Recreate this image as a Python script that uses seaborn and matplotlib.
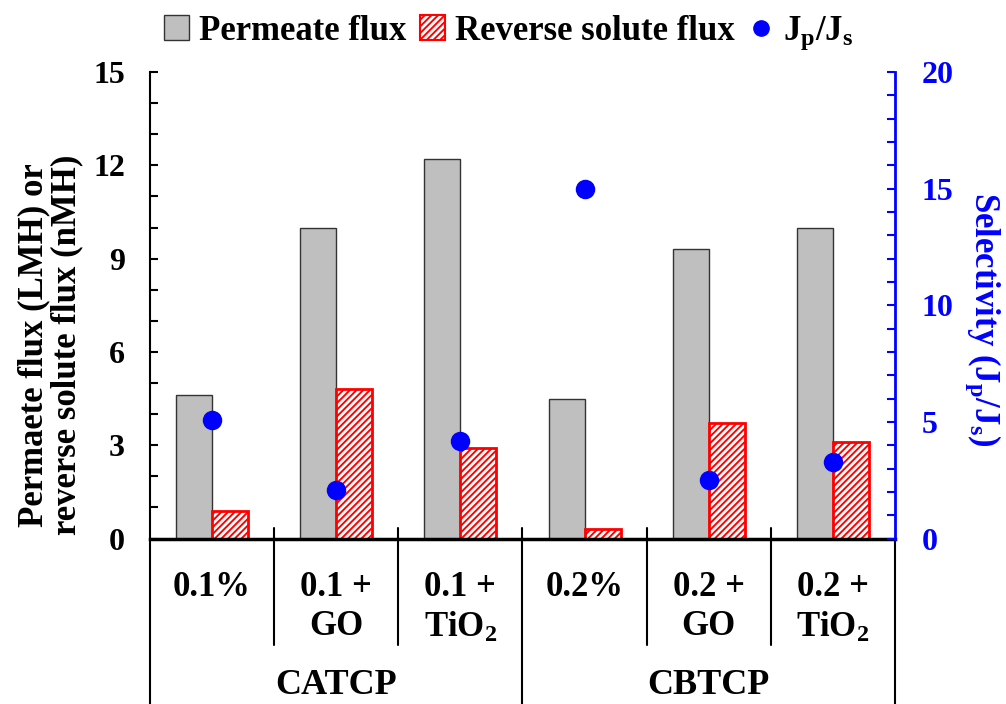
import numpy as np
import pandas as pd
import matplotlib
matplotlib.use("Agg")
import matplotlib.pyplot as plt
import matplotlib.transforms as mtransforms
from matplotlib.patches import Patch
from matplotlib.lines import Line2D
from matplotlib.ticker import MultipleLocator
import seaborn as sns

# ---- data ----
categories = ["0.1%", "0.1 +\nGO", "0.1 +\nTiO$_2$", "0.2%", "0.2 +\nGO", "0.2 +\nTiO$_2$"]
groups = ["CATCP", "CBTCP"]
permeate_flux = [4.6, 10.0, 12.2, 4.5, 9.3, 10.0]
reverse_flux = [0.9, 4.8, 2.9, 0.3, 3.7, 3.1]
selectivity = [5.1, 2.1, 4.2, 15.0, 2.5, 3.3]
series_names = ["Permeate flux", "Reverse solute flux"]

sns.set_style("ticks")
plt.rcParams["font.family"] = ["Liberation Serif", "DejaVu Serif"]
plt.rcParams["font.weight"] = "bold"
plt.rcParams["text.color"] = "black"
plt.rcParams["axes.labelcolor"] = "black"
plt.rcParams["axes.edgecolor"] = "black"
plt.rcParams["xtick.color"] = "black"
plt.rcParams["ytick.color"] = "black"
plt.rcParams["mathtext.fontset"] = "custom"
plt.rcParams["mathtext.rm"] = "Liberation Serif:bold"
plt.rcParams["mathtext.it"] = "Liberation Serif:bold"
plt.rcParams["mathtext.bf"] = "Liberation Serif:bold"
plt.rcParams["hatch.linewidth"] = 1.4

df = pd.DataFrame({
    "cat": categories * 2,
    "val": permeate_flux + reverse_flux,
    "series": [series_names[0]] * len(categories) + [series_names[1]] * len(categories),
})
sel_df = pd.DataFrame({"cat": categories, "sel": selectivity})

fig = plt.figure(figsize=(10.06, 7.04), dpi=100)
ax = fig.add_axes([0.149, 0.235, 0.7407, 0.6627])

sns.barplot(data=df, x="cat", y="val", hue="series", hue_order=series_names,
            palette={series_names[0]: "#BFBFBF", series_names[1]: "white"},
            width=0.58, ax=ax, legend=False, saturation=1, errorbar=None)

for p in ax.containers[0]:
    p.set_edgecolor("#333333")
    p.set_linewidth(1.0)
for p in ax.containers[1]:
    p.set_facecolor("white")
    p.set_edgecolor("red")
    p.set_hatch("/////")
    p.set_linewidth(2.0)

ax.set_ylim(0, 15)
ax.set_xlim(-0.5, len(categories) - 0.5)
ax.yaxis.set_major_locator(MultipleLocator(3))
ax.yaxis.set_minor_locator(MultipleLocator(1))
ax.tick_params(axis="y", which="both", direction="in", length=6, width=1.5,
               labelsize=23, pad=18, left=True, right=False, colors="black")
ax.tick_params(axis="x", length=0, labelbottom=False)
ax.set_xlabel("")
ax.set_ylabel("Permaete flux (LMH) or\nreverse solute flux (nMH)", fontsize=25,
              fontweight="bold", linespacing=1.0, color="black")
ax.yaxis.label.set_va("center")
ax.yaxis.set_label_coords(-0.133, 0.415)
for lab in ax.get_yticklabels():
    lab.set_fontweight("bold")

ax.spines["top"].set_visible(False)
ax.spines["right"].set_visible(False)
ax.spines["left"].set_linewidth(1.5)
ax.spines["bottom"].set_linewidth(2.5)
ax.spines["left"].set_bounds(0, 15)

# secondary axis
ax2 = ax.twinx()
sns.pointplot(data=sel_df, x="cat", y="sel", linestyle="none", color="blue",
              markers="o", markersize=12, errorbar=None, ax=ax2)
ax2.set_ylim(0, 20)
ax2.set_xlim(-0.5, len(categories) - 0.5)
ax2.yaxis.set_major_locator(MultipleLocator(5))
ax2.yaxis.set_minor_locator(MultipleLocator(1))
ax2.tick_params(axis="y", which="both", direction="in", length=6, width=1.5,
                colors="blue", labelsize=23, pad=19, left=False, right=True)
ax2.set_ylabel("Selectivity (J$_\\mathrm{p}$/J$_\\mathrm{s}$)", color="blue",
               fontsize=25, fontweight="bold", rotation=270)
ax2.yaxis.label.set_va("center")
ax2.yaxis.set_label_coords(1.118, 0.47)
for lab in ax2.get_yticklabels():
    lab.set_fontweight("bold")
for s in ["top", "left", "bottom"]:
    ax2.spines[s].set_visible(False)
ax2.spines["right"].set_color("blue")
ax2.spines["right"].set_linewidth(2.0)
ax2.set_xlabel("")

# category separators and labels
trans = mtransforms.blended_transform_factory(ax.transData, ax.transAxes)
n = len(categories)
per_group = n // len(groups)
for i in range(n + 1):
    xb = i - 0.5
    if i == 0 or i == n or i % per_group == 0:
        y0 = -0.36
    else:
        y0 = -0.228
    top = 0.0 if i in (0, n) else 0.022
    ax.plot([xb, xb], [y0, top], color="black", lw=1.5, transform=trans, clip_on=False)
for i, c in enumerate(categories):
    ax.text(i, -0.07, c, transform=trans, ha="center", va="top", fontsize=25,
            fontweight="bold", linespacing=1.25)
for g, name in enumerate(groups):
    ax.text(g * per_group + (per_group - 1) / 2, -0.315, name, transform=trans,
            ha="center", va="center", fontsize=26, fontweight="bold")

# legend
handles = [
    Patch(facecolor="#BFBFBF", edgecolor="#333333", linewidth=1.0),
    Patch(facecolor="white", edgecolor="red", hatch="/////", linewidth=1.5),
    Line2D([], [], marker="o", linestyle="none", color="blue", markersize=11),
]
labels = [series_names[0], series_names[1], "J$_\\mathrm{p}$/J$_\\mathrm{s}$"]
fig.legend(handles, labels, loc="center", bbox_to_anchor=(0.506, 0.953), ncol=3,
           frameon=False, prop={"size": 25, "weight": "bold"}, handlelength=0.7,
           handleheight=0.7, handletextpad=0.3, columnspacing=0.4)

fig.savefig("out.png", dpi=100)
